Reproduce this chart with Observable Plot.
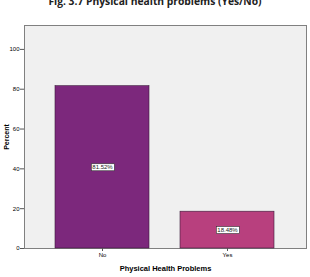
<!DOCTYPE html>
<html>
<head>
<meta charset="utf-8">
<script src="https://cdn.jsdelivr.net/npm/d3@7"></script>
<script src="https://cdn.jsdelivr.net/npm/@observablehq/plot@0.6"></script>
<style>
  html, body { margin: 0; padding: 0; background: #fff; overflow: hidden; }
  #wrap { position: relative; width: 310px; height: 277px; }
  #title { position: absolute; left: 0; width: 310px; top: -4px; text-align: center;
           font-family: "Open Sans", sans-serif; font-weight: bold; font-size: 10.3px; line-height: 11px; color: #222; white-space: nowrap; }
  #chart { position: absolute; left: 0; top: 0; }
</style>
</head>
<body>
<div id="wrap">
  <div id="title">Fig. 3.7 Physical health problems (Yes/No)</div>
  <div id="chart"></div>
</div>
<script>
const categories = ["No", "Yes"];
const percents = [81.52, 18.48];
const barColors = ["#7c287c", "#b8407e"];
const yTicks = [0, 20, 40, 60, 80, 100];
const xLabel = "Physical Health Problems";
const yLabel = "Percent";

const data = categories.map((c, i) => ({category: c, percent: percents[i], color: barColors[i]}));

const chart = Plot.plot({
  width: 310,
  height: 277,
  marginLeft: 24,
  marginRight: 4,
  marginTop: 25,
  marginBottom: 29,
  style: {fontFamily: "Liberation Sans, Arial, sans-serif", background: "transparent", overflow: "visible"},
  x: {domain: categories, padding: 0.245},
  y: {domain: [0, 112], ticks: yTicks},
  marks: [
    Plot.frame({fill: "#f0f0f0", stroke: "#808080", strokeWidth: 1}),
    Plot.barY(data, {x: "category", y: "percent", fill: "color", stroke: "#3a1a3a", strokeWidth: 0.6}),
    Plot.text(data, {
      x: "category",
      y: d => d.percent / 2,
      text: d => d.percent.toFixed(2) + "%",
      fontSize: 6,
      fill: "#222"
    }),
    Plot.axisY({
      ticks: yTicks,
      tickSize: 4,
      tickPadding: 1,
      fontSize: 6,
      stroke: "#555",
      label: yLabel,
      labelAnchor: "center",
      labelArrow: "none",
      labelOffset: 20
    }),
    Plot.axisX({
      tickSize: 3,
      tickPadding: 1,
      fontSize: 6,
      stroke: "#555",
      label: xLabel,
      labelAnchor: "center",
      labelArrow: "none",
      labelOffset: 22
    })
  ]
});

document.getElementById("chart").appendChild(chart);

chart.querySelectorAll('g[aria-label="y-axis label"] text, g[aria-label="x-axis label"] text').forEach(t => {
  t.setAttribute("font-weight", "bold");
});
chart.querySelectorAll('g[aria-label="y-axis label"] text').forEach(t => t.setAttribute("font-size", "7"));
chart.querySelectorAll('g[aria-label="x-axis label"] text').forEach(t => t.setAttribute("font-size", "7.5"));

// white boxes behind value labels
const NS = "http://www.w3.org/2000/svg";
Array.from(chart.querySelectorAll("text")).filter(t => /%$/.test(t.textContent.trim())).forEach(t => {
  const b = t.getBBox();
  const r = document.createElementNS(NS, "rect");
  r.setAttribute("x", b.x - 1);
  r.setAttribute("y", b.y - 0.5);
  r.setAttribute("width", b.width + 2);
  r.setAttribute("height", b.height + 1);
  r.setAttribute("fill", "#fff");
  r.setAttribute("stroke", "#333");
  r.setAttribute("stroke-width", "0.6");
  const tr = t.getAttribute("transform");
  if (tr) r.setAttribute("transform", tr);
  t.parentNode.insertBefore(r, t);
});
</script>
</body>
</html>
